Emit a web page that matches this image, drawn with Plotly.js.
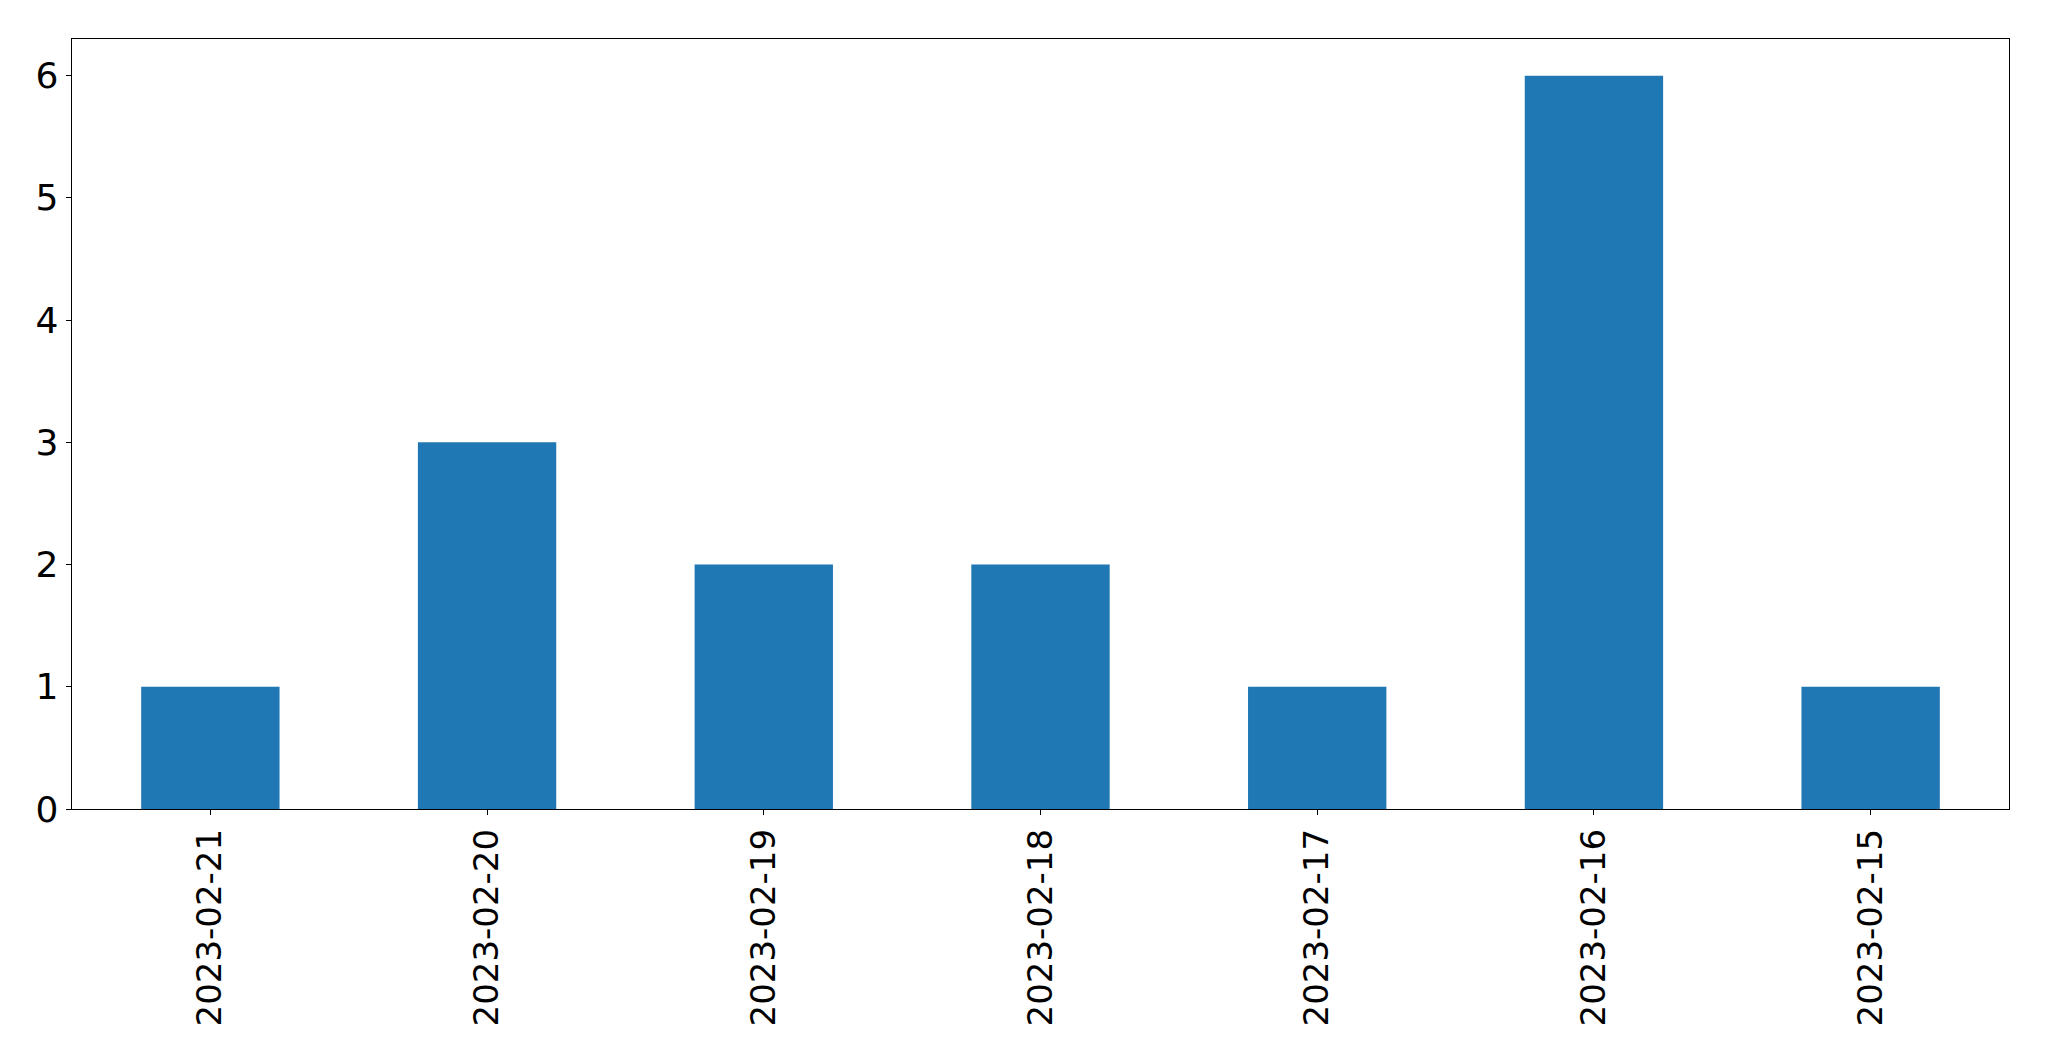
<!DOCTYPE html>
<html>
<head>
<meta charset="utf-8">
<script src="https://cdn.plot.ly/plotly-3.0.1.min.js"></script>
<style>html,body{margin:0;padding:0;background:#fff;}#chart{width:2049px;height:1061px;}</style>
</head>
<body>
<div id="chart"></div>
<script>
const categories = ["2023-02-21","2023-02-20","2023-02-19","2023-02-18","2023-02-17","2023-02-16","2023-02-15"];
const counts = [1, 3, 2, 2, 1, 6, 1];
const yTickVals = [0, 1, 2, 3, 4, 5, 6];

const trace = {
  type: 'bar',
  x: categories,
  y: counts,
  width: 0.5,
  marker: {color: '#1f77b4', line: {width: 0}},
  hoverinfo: 'x+y'
};

const layout = {
  width: 2049,
  height: 1061,
  margin: {l: 72, r: 40, t: 39, b: 252},
  paper_bgcolor: '#ffffff',
  plot_bgcolor: '#ffffff',
  showlegend: false,
  font: {family: 'DejaVu Sans', color: '#000000', size: 34},
  xaxis: {
    type: 'category',
    range: [-0.5, 6.5],
    tickangle: -90,
    ticks: 'outside',
    ticklen: 5,
    tickwidth: 1,
    tickcolor: '#000',
    showline: true,
    mirror: true,
    linecolor: '#000',
    linewidth: 1.3,
    showgrid: false,
    zeroline: false,
    tickfont: {family: 'DejaVu Sans', size: 34, color: '#000'},
    ticklabelstandoff: 0
  },
  yaxis: {
    range: [0, 6.3],
    tickvals: yTickVals,
    ticks: 'outside',
    ticklen: 5,
    tickwidth: 1,
    tickcolor: '#000',
    showline: true,
    mirror: true,
    linecolor: '#000',
    linewidth: 1.3,
    showgrid: false,
    zeroline: false,
    tickfont: {family: 'DejaVu Sans', size: 36, color: '#000'},
    ticklabelstandoff: 0
  }
};

Plotly.newPlot('chart', [trace], layout, {displayModeBar: false, staticPlot: true});
</script>
</body>
</html>
